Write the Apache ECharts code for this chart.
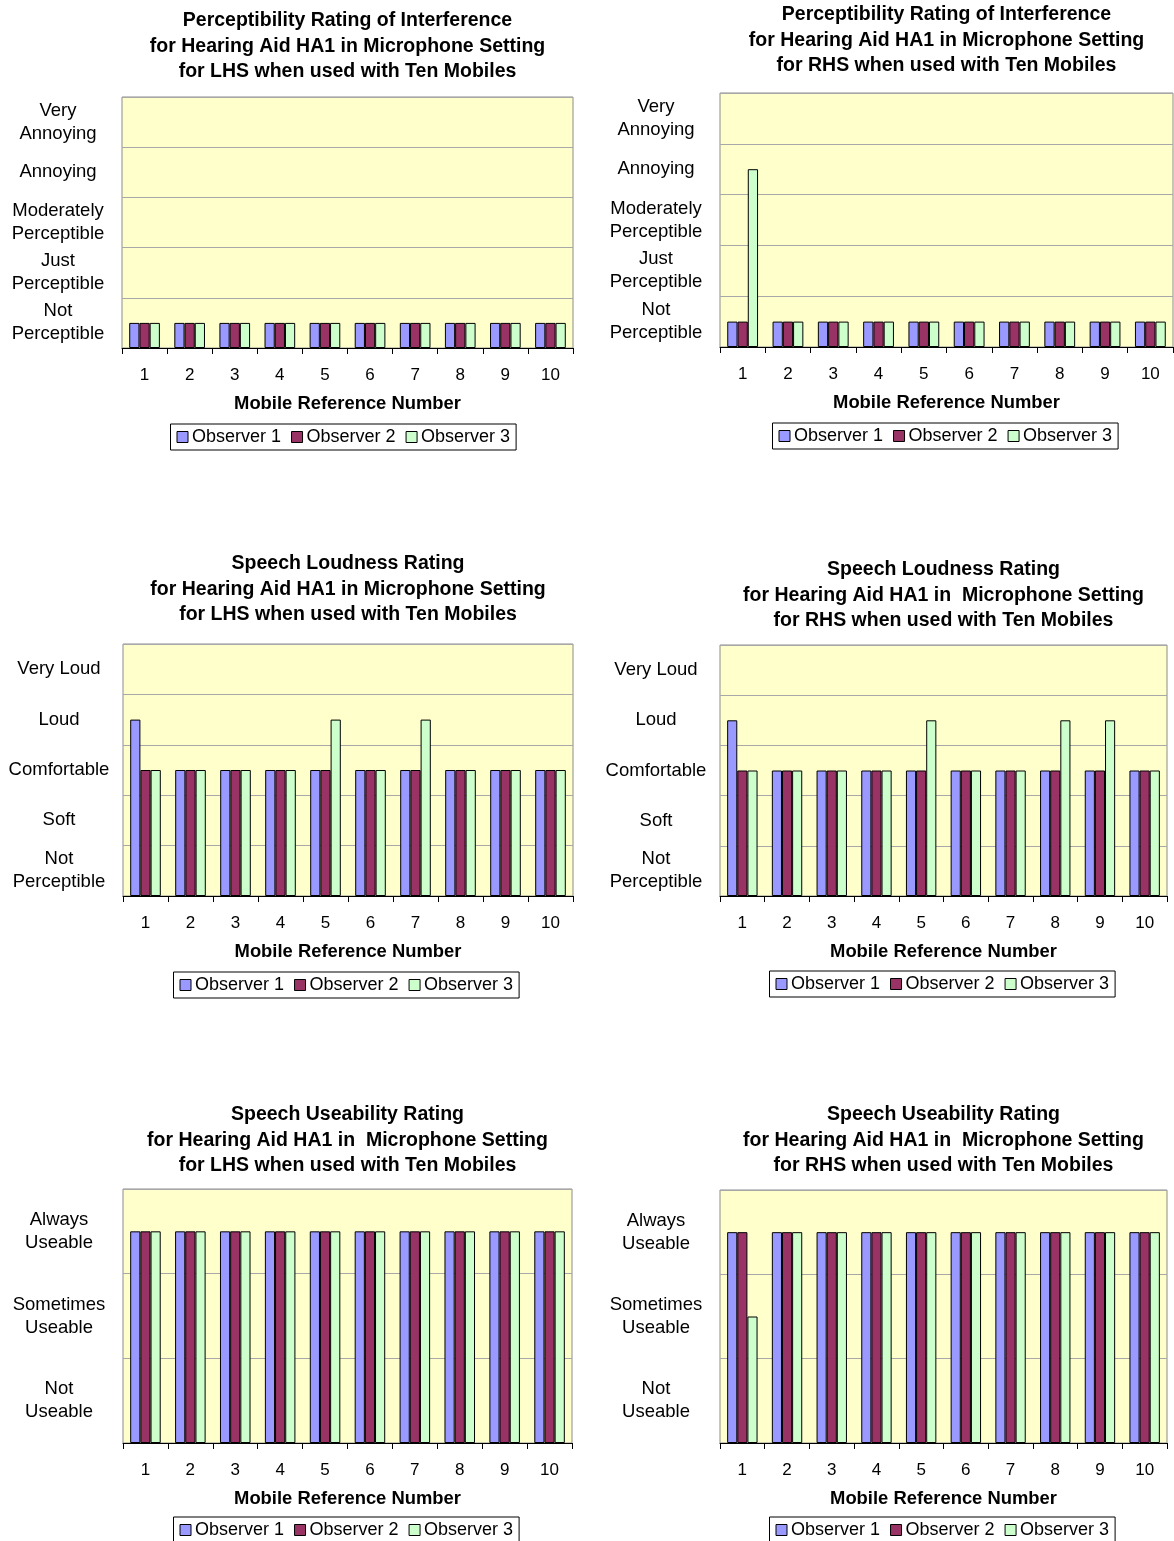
<!DOCTYPE html>
<html>
<head>
<meta charset="utf-8">
<script src="https://cdn.jsdelivr.net/npm/echarts@6/dist/echarts.min.js"></script>
<style>
  html, body { margin: 0; padding: 0; background: #fff; }
  #chart { width: 1174px; height: 1541px; }
</style>
</head>
<body>
<div id="chart"></div>
<script>
// Mobile phones tested (x axis)
const mobiles = ['1', '2', '3', '4', '5', '6', '7', '8', '9', '10'];
const observers = ['Observer 1', 'Observer 2', 'Observer 3'];

// Rating scales, lowest band first
const perceptLevels = ['Not\nPerceptible', 'Just\nPerceptible', 'Moderately\nPerceptible', 'Annoying', 'Very\nAnnoying'];
const loudLevels = ['Not\nPerceptible', 'Soft', 'Comfortable', 'Loud', 'Very Loud'];
const useLevels = ['Not\nUseable', 'Sometimes\nUseable', 'Always\nUseable'];

// Perceptibility of interference (band centre values)
const perceptLHS_obs1 = [0.5, 0.5, 0.5, 0.5, 0.5, 0.5, 0.5, 0.5, 0.5, 0.5];
const perceptLHS_obs2 = [0.5, 0.5, 0.5, 0.5, 0.5, 0.5, 0.5, 0.5, 0.5, 0.5];
const perceptLHS_obs3 = [0.5, 0.5, 0.5, 0.5, 0.5, 0.5, 0.5, 0.5, 0.5, 0.5];
const perceptRHS_obs1 = [0.5, 0.5, 0.5, 0.5, 0.5, 0.5, 0.5, 0.5, 0.5, 0.5];
const perceptRHS_obs2 = [0.5, 0.5, 0.5, 0.5, 0.5, 0.5, 0.5, 0.5, 0.5, 0.5];
const perceptRHS_obs3 = [3.5, 0.5, 0.5, 0.5, 0.5, 0.5, 0.5, 0.5, 0.5, 0.5];

// Speech loudness
const loudLHS_obs1 = [3.5, 2.5, 2.5, 2.5, 2.5, 2.5, 2.5, 2.5, 2.5, 2.5];
const loudLHS_obs2 = [2.5, 2.5, 2.5, 2.5, 2.5, 2.5, 2.5, 2.5, 2.5, 2.5];
const loudLHS_obs3 = [2.5, 2.5, 2.5, 2.5, 3.5, 2.5, 3.5, 2.5, 2.5, 2.5];
const loudRHS_obs1 = [3.5, 2.5, 2.5, 2.5, 2.5, 2.5, 2.5, 2.5, 2.5, 2.5];
const loudRHS_obs2 = [2.5, 2.5, 2.5, 2.5, 2.5, 2.5, 2.5, 2.5, 2.5, 2.5];
const loudRHS_obs3 = [2.5, 2.5, 2.5, 2.5, 3.5, 2.5, 2.5, 3.5, 3.5, 2.5];

// Speech useability
const useLHS_obs1 = [2.5, 2.5, 2.5, 2.5, 2.5, 2.5, 2.5, 2.5, 2.5, 2.5];
const useLHS_obs2 = [2.5, 2.5, 2.5, 2.5, 2.5, 2.5, 2.5, 2.5, 2.5, 2.5];
const useLHS_obs3 = [2.5, 2.5, 2.5, 2.5, 2.5, 2.5, 2.5, 2.5, 2.5, 2.5];
const useRHS_obs1 = [2.5, 2.5, 2.5, 2.5, 2.5, 2.5, 2.5, 2.5, 2.5, 2.5];
const useRHS_obs2 = [2.5, 2.5, 2.5, 2.5, 2.5, 2.5, 2.5, 2.5, 2.5, 2.5];
const useRHS_obs3 = [1.5, 2.5, 2.5, 2.5, 2.5, 2.5, 2.5, 2.5, 2.5, 2.5];

const panels = [
  { title: 'Perceptibility Rating of Interference\nfor Hearing Aid HA1 in Microphone Setting\nfor LHS when used with Ten Mobiles',
    levels: perceptLevels, data: [perceptLHS_obs1, perceptLHS_obs2, perceptLHS_obs3],
    grid: { left: 122, top: 97, width: 451, height: 251 }, titleTop: 8, legendTop: 424, legendCx: 344 },
  { title: 'Perceptibility Rating of Interference\nfor Hearing Aid HA1 in Microphone Setting\nfor RHS when used with Ten Mobiles',
    levels: perceptLevels, data: [perceptRHS_obs1, perceptRHS_obs2, perceptRHS_obs3],
    grid: { left: 720, top: 93, width: 453, height: 254 }, titleTop: 2, legendTop: 423, legendCx: 946 },
  { title: 'Speech Loudness Rating\nfor Hearing Aid HA1 in Microphone Setting\nfor LHS when used with Ten Mobiles',
    levels: loudLevels, data: [loudLHS_obs1, loudLHS_obs2, loudLHS_obs3],
    grid: { left: 123, top: 644, width: 450, height: 252 }, titleTop: 551, legendTop: 972, legendCx: 347 },
  { title: 'Speech Loudness Rating\nfor Hearing Aid HA1 in  Microphone Setting\nfor RHS when used with Ten Mobiles',
    levels: loudLevels, data: [loudRHS_obs1, loudRHS_obs2, loudRHS_obs3],
    grid: { left: 720, top: 645, width: 447, height: 251 }, titleTop: 557, legendTop: 971, legendCx: 943 },
  { title: 'Speech Useability Rating\nfor Hearing Aid HA1 in  Microphone Setting\nfor LHS when used with Ten Mobiles',
    levels: useLevels, data: [useLHS_obs1, useLHS_obs2, useLHS_obs3],
    grid: { left: 123, top: 1189, width: 449, height: 254 }, titleTop: 1102, legendTop: 1517, legendCx: 347 },
  { title: 'Speech Useability Rating\nfor Hearing Aid HA1 in  Microphone Setting\nfor RHS when used with Ten Mobiles',
    levels: useLevels, data: [useRHS_obs1, useRHS_obs2, useRHS_obs3],
    grid: { left: 720, top: 1190, width: 447, height: 253 }, titleTop: 1102, legendTop: 1517, legendCx: 943 }
];

const FONT = 'Liberation Sans, Arial, sans-serif';
const colors = ['#9999FF', '#993366', '#CCFFCC'];
const LEGEND_W = 347;

const option = {
  animation: false,
  backgroundColor: '#ffffff',
  textStyle: { fontFamily: FONT },
  title: [], grid: [], xAxis: [], yAxis: [], legend: [], series: []
};

panels.forEach((p, i) => {
  const cx = p.grid.left + p.grid.width / 2;
  option.title.push({
    text: p.title, left: cx, top: p.titleTop, textAlign: 'center', padding: 0,
    textStyle: { fontFamily: FONT, fontSize: 19.5, fontWeight: 'bold', color: '#000', lineHeight: 25.5 }
  });
  option.grid.push(Object.assign({
    show: true, backgroundColor: '#FFFFCC', borderColor: '#8c8c8c', borderWidth: 1,
    containLabel: false, outerBoundsMode: 'none'
  }, p.grid));

  option.xAxis.push({
    type: 'category', gridIndex: i, data: mobiles,
    name: 'Mobile Reference Number', nameLocation: 'middle', nameGap: 47,
    nameTextStyle: { fontFamily: FONT, fontSize: 18.4, fontWeight: 'bold', color: '#000' },
    axisLine: { lineStyle: { color: '#000', width: 1 } },
    axisTick: { show: true, alignWithLabel: false, length: 6, lineStyle: { color: '#000' } },
    axisLabel: { fontFamily: FONT, fontSize: 17, color: '#000', margin: 19 },
    splitLine: { show: false }
  });

  // value axis: scale and grid lines
  const nLevels = p.levels.length;
  option.yAxis.push({
    type: 'value', gridIndex: i, min: 0, max: nLevels, interval: 1, position: 'left',
    axisLine: { show: false }, axisTick: { show: false }, axisLabel: { show: false },
    splitLine: { show: true, lineStyle: { color: '#a8a8a8', width: 1 } }
  });
  // category axis: band names centred between grid lines
  option.yAxis.push({
    type: 'category', gridIndex: i, data: p.levels, boundaryGap: true, position: 'left',
    axisLine: { show: false }, axisTick: { show: false }, splitLine: { show: false },
    axisLabel: {
      fontFamily: FONT, fontSize: 18.5, color: '#000', align: 'center', lineHeight: 23,
      margin: 64, interval: 0
    }
  });

  option.legend.push({
    data: observers, left: p.legendCx - LEGEND_W / 2, top: p.legendTop, width: LEGEND_W,
    orient: 'horizontal', icon: 'rect', itemWidth: 11, itemHeight: 11, itemGap: 10,
    padding: [4, 6, 4, 6], borderColor: '#000', borderWidth: 1,
    itemStyle: { borderColor: '#000', borderWidth: 1 },
    textStyle: { fontFamily: FONT, fontSize: 18, color: '#000', padding: [0, 0, 0, -1] }
  });

  p.data.forEach((vals, s) => {
    option.series.push({
      type: 'bar', name: observers[s], xAxisIndex: i, yAxisIndex: 2 * i,
      data: vals, barGap: '0%', barCategoryGap: '32%',
      itemStyle: { color: colors[s], borderColor: '#000', borderWidth: 1 }
    });
  });
});

const chart = echarts.init(document.getElementById('chart'), null, { renderer: 'canvas' });
chart.setOption(option);
</script>
</body>
</html>
